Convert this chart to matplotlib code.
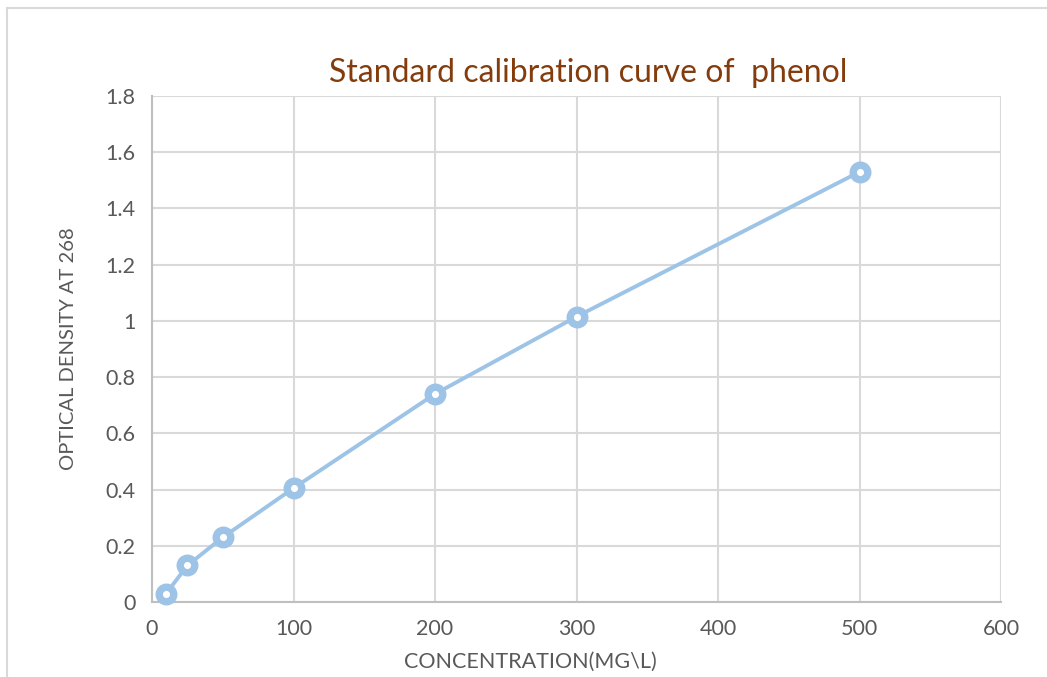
import matplotlib
matplotlib.use("Agg")
import matplotlib.pyplot as plt
from matplotlib.lines import Line2D

# calibration data
concentration = [10, 25, 50, 100, 200, 300, 500]
optical_density = [0.03, 0.13, 0.23, 0.405, 0.74, 1.015, 1.53]

x_ticks = [0, 100, 200, 300, 400, 500, 600]
y_ticks = [0, 0.2, 0.4, 0.6, 0.8, 1, 1.2, 1.4, 1.6, 1.8]
y_tick_labels = ["0", "0.2", "0.4", "0.6", "0.8", "1", "1.2", "1.4", "1.6", "1.8"]

plt.rcParams['font.family'] = ['Lato', 'DejaVu Sans']

W, H = 1047, 677
fig = plt.figure(figsize=(W / 100, H / 100), dpi=100)
ax = fig.add_axes([152 / W, 1 - 602 / H, (1001 - 152) / W, (602 - 96) / H])

blue = "#9DC3E6"
ax.plot(concentration, optical_density, color=blue, lw=2.8, zorder=3,
        marker="o", markersize=10.5, markerfacecolor="white",
        markeredgecolor=blue, markeredgewidth=5.3, clip_on=False)

ax.set_xlim(0, 600)
ax.set_ylim(0, 1.8)
ax.set_xticks(x_ticks)
ax.set_yticks(y_ticks)
ax.set_yticklabels(y_tick_labels)
ax.grid(True, color="#D9D9D9", lw=1.5)
ax.set_axisbelow(True)
ax.tick_params(length=0, labelsize=15.5, colors="#595959", pad=12)

for side in ["top", "right"]:
    ax.spines[side].set_visible(False)
for side in ["left", "bottom"]:
    ax.spines[side].set_color("#BFBFBF")
    ax.spines[side].set_linewidth(1.5)

ax.set_xlabel("CONCENTRATION(MG\\L)", fontsize=15.5, color="#595959")
ax.set_ylabel("OPTICAL DENSITY AT 268", fontsize=14.5, color="#595959")
ax.xaxis.set_label_coords((530 - 152) / 849, -(662 - 602) / 506)
ax.yaxis.set_label_coords(-(152 - 68) / 849, 0.5)
ax.xaxis.label.set_va("center")
ax.yaxis.label.set_va("center")

fig.text(588 / W, 1 - 73 / H, "Standard calibration curve of  phenol",
         ha="center", va="center", fontsize=23, color="#843C0C")

# outer chart frame (left and top edges visible)
fig.add_artist(Line2D([7 / W, 7 / W], [0, 1 - 8 / H], transform=fig.transFigure,
                      color="#D9D9D9", lw=1.5))
fig.add_artist(Line2D([7 / W, 1], [1 - 8 / H, 1 - 8 / H], transform=fig.transFigure,
                      color="#D9D9D9", lw=1.5))

fig.savefig("out.png", dpi=100)
